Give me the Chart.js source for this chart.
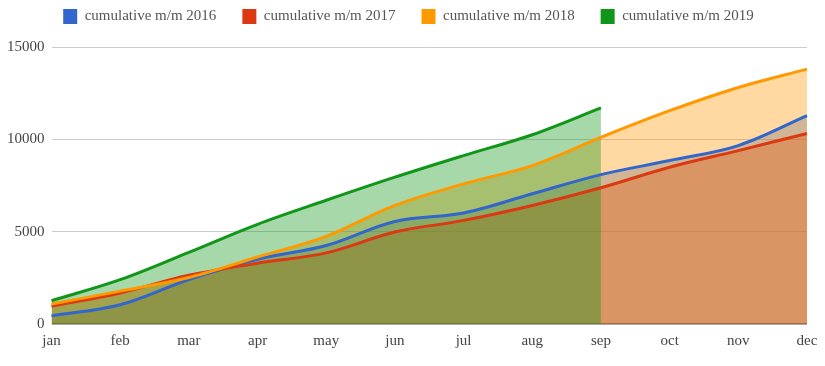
<!DOCTYPE html>
<html>
<head>
<meta charset="utf-8">
<script src="https://cdn.jsdelivr.net/npm/chart.js@4"></script>
<style>
  body { margin: 0; background: #fff; }
  #wrap { width: 825px; height: 366px; }
</style>
</head>
<body>
<div id="wrap"><canvas id="areaChart"></canvas></div>
<script>
var months = ["jan", "feb", "mar", "apr", "may", "jun", "jul", "aug", "sep", "oct", "nov", "dec"];
var seriesNames = ["cumulative m/m 2016", "cumulative m/m 2017", "cumulative m/m 2018", "cumulative m/m 2019"];
var values2016 = [440, 1040, 2400, 3500, 4250, 5550, 6010, 7050, 8090, 8850, 9660, 11280];
var values2017 = [960, 1680, 2640, 3290, 3850, 4980, 5610, 6420, 7380, 8490, 9390, 10320];
var values2018 = [1080, 1780, 2520, 3630, 4750, 6420, 7590, 8580, 10110, 11550, 12810, 13800];
var values2019 = [1260, 2400, 3880, 5400, 6700, 7950, 9120, 10250, 11700, null, null, null];
var yTicks = [0, 5000, 10000, 15000];

var lineColors = ["#3366cc", "#dc3912", "#ff9900", "#109618"];
var fillColors = ["rgba(51,102,204,0.37)", "rgba(220,57,18,0.37)", "rgba(255,153,0,0.37)", "rgba(16,150,24,0.37)"];
var allValues = [values2016, values2017, values2018, values2019];

var datasets = allValues.map(function (vals, i) {
  return {
    label: seriesNames[i],
    data: vals,
    borderColor: lineColors[i],
    backgroundColor: fillColors[i],
    borderWidth: 3,
    pointRadius: 0,
    fill: "origin",
    tension: 0.35,
    order: 4 - i
  };
});

var serif = "'Liberation Serif', 'DejaVu Serif', serif";

// push the plot area down a bit below the legend, and nudge legend right
var legendGap = {
  id: "legendGap",
  beforeLayout: function (chart) {
    var lg = chart.legend;
    if (lg && !lg._gapPatched) {
      var origFit = lg.fit;
      lg.fit = function () {
        origFit.call(this);
        this.height += 13;
      };
      lg._gapPatched = true;
    }
  },
  afterLayout: function (chart) {
    if (chart.legend) {
      chart.legend.left += 5;
      chart.legend.right += 5;
    }
  }
};

new Chart(document.getElementById("areaChart").getContext("2d"), {
  type: "line",
  data: { labels: months, datasets: datasets },
  plugins: [legendGap],
  options: {
    responsive: true,
    maintainAspectRatio: false,
    animation: false,
    layout: { padding: { top: -17, bottom: 16, left: 0, right: 18 } },
    plugins: {
      filler: { drawTime: "beforeDatasetsDraw" },
      tooltip: { enabled: false },
      legend: {
        position: "top",
        labels: {
          boxWidth: 14,
          boxHeight: 15,
          padding: 26,
          color: "#555",
          font: { family: serif, size: 15 },
          sort: function (a, b) { return a.datasetIndex - b.datasetIndex; },
          generateLabels: function (chart) {
            return chart.data.datasets.map(function (ds, i) {
              return {
                text: ds.label,
                fillStyle: ds.borderColor,
                strokeStyle: ds.borderColor,
                lineWidth: 0,
                datasetIndex: i,
                fontColor: "#555"
              };
            });
          }
        }
      }
    },
    scales: {
      x: {
        grid: { display: false },
        border: { display: false },
        ticks: { color: "#444", font: { family: serif, size: 15 }, maxRotation: 0, padding: 0 }
      },
      y: {
        min: 0,
        max: 15000,
        afterBuildTicks: function (axis) {
          axis.ticks = yTicks.map(function (v) { return { value: v }; });
        },
        border: { display: false },
        grid: {
          color: function (ctx) { return ctx.tick && ctx.tick.value === 0 ? "#555" : "#cccccc"; },
          lineWidth: function (ctx) { return ctx.tick && ctx.tick.value === 0 ? 1.5 : 1; },
          drawTicks: false
        },
        ticks: {
          color: "#444",
          font: { family: serif, size: 15 },
          padding: 7,
          callback: function (v) { return String(v); }
        }
      }
    }
  }
});
</script>
</body>
</html>
